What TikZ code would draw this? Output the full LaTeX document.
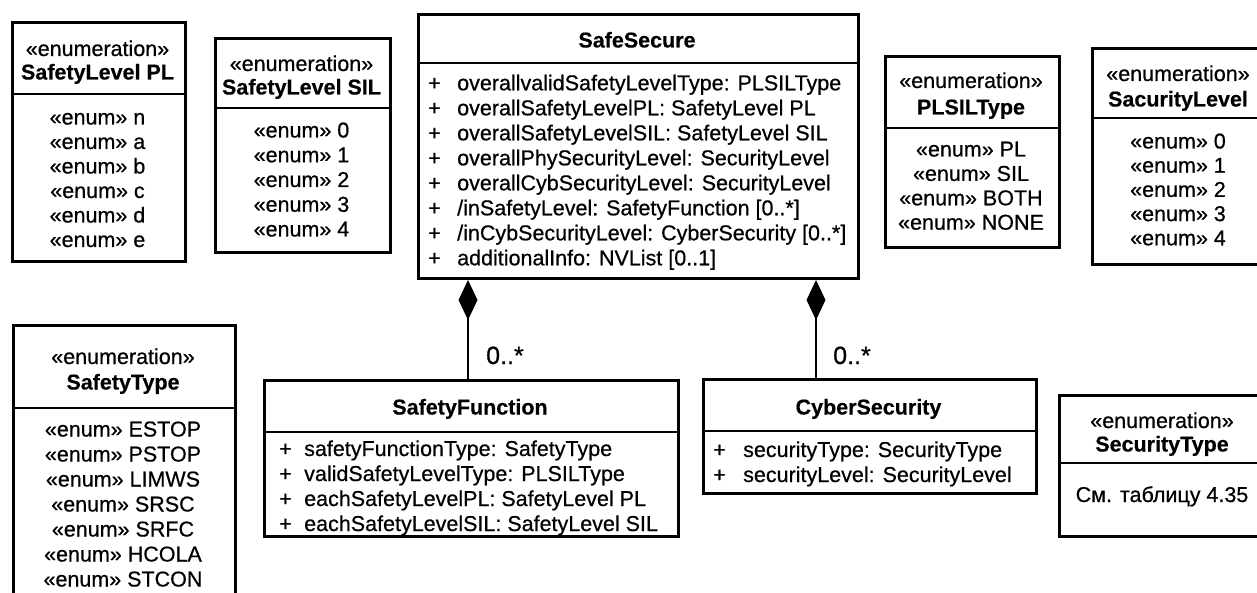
\documentclass[tikz,border=0pt]{standalone}
\usepackage{fontspec}
\setmainfont{Liberation Sans}[UprightFeatures={FakeBold=0.6},BoldFeatures={FakeBold=0.4}]
\usetikzlibrary{arrows.meta}
\tikzset{
  cls/.style={draw, line width=3pt, inner sep=0pt, anchor=north west},
  sepline/.style={line width=2.6pt},
  txt/.style={inner sep=0pt, anchor=base, font=\fontsize{21.5}{25}\selectfont},
  btxt/.style={txt, font=\fontsize{21.5}{25}\selectfont\bfseries},
  ltxt/.style={txt, anchor=base west},
  mult/.style={inner sep=0pt, anchor=base west, font=\fontsize{25}{28}\selectfont},
  comp/.style={line width=2pt, -{Diamond[length=40pt,width=19pt]}},
}
\newcommand\umlbox[6]{% name, left, top, right, bottom, divider
  \node[cls, minimum width={#4pt-#2pt}, minimum height={#5pt-#3pt}] (#1) at (#2,#3) {};
  \draw[sepline] (#1.west |- 0,#6) -- (#1.east |- 0,#6);
}
\newcommand\enumrows[5]{% name, cx, y0, dy, list
  \foreach \rowtext [count=\i] in {#5} {\node[txt] (#1-\i) at (#2,{#3+(\i-1)*#4}) {\rowtext};}
}
\newcommand\attrrows[6]{% name, xplus, xtext, y0, dy, list
  \foreach \rowtext [count=\i] in {#6} {
    \node[ltxt] (#1-p\i) at (#2,{#4+(\i-1)*#5}) {+};
    \node[ltxt] (#1-\i) at (#3,{#4+(\i-1)*#5}) {\rowtext};}
}
\begin{document}
\begin{tikzpicture}[x=1pt,y=-1pt]
\useasboundingbox (0,0) rectangle (1257,593);
\clip (0,0) rectangle (1257,593);

% SafetyLevel PL
\umlbox{pl}{11}{21}{184}{260}{94}
\node[txt] (pl-s) at (97.5,56) {«enumeration»};
\node[btxt] (pl-n) at (97.5,79.5) {SafetyLevel PL};
\enumrows{pl}{97.5}{124.5}{24.5}{«enum» n,«enum» a,«enum» b,«enum» c,«enum» d,«enum» e}

% SafetyLevel SIL
\umlbox{sil}{214}{37}{389}{251}{108}
\node[txt] (sil-s) at (301.5,71) {«enumeration»};
\node[btxt] (sil-n) at (301.5,94.5) {SafetyLevel SIL};
\enumrows{sil}{301.5}{137.5}{24.75}{«enum» 0,«enum» 1,«enum» 2,«enum» 3,«enum» 4}

% SafeSecure
\umlbox{ss}{417}{13}{857}{277}{63}
\node[btxt] (ss-n) at (637,47.5) {SafeSecure};
\attrrows{ss}{428}{457}{90.3}{25}{overallvalidSafetyLevelType: PLSILType,overallSafetyLevelPL: SafetyLevel PL,overallSafetyLevelSIL: SafetyLevel SIL,overallPhySecurityLevel: SecurityLevel,overallCybSecurityLevel: SecurityLevel,/inSafetyLevel: SafetyFunction [0..*],/inCybSecurityLevel: CyberSecurity [0..*],additionalInfo: NVList [0..1]}

% PLSILType
\umlbox{plsil}{884}{55}{1058}{246}{128}
\node[txt] (plsil-s) at (971,88) {«enumeration»};
\node[btxt] (plsil-n) at (971,114.5) {PLSILType};
\enumrows{plsil}{971}{156.5}{24.4}{«enum» PL,«enum» SIL,«enum» BOTH,«enum» NONE}

% SacurityLevel
\umlbox{sacl}{1091}{47}{1265}{263}{118}
\node[txt] (sacl-s) at (1178,81) {«enumeration»};
\node[btxt] (sacl-n) at (1178,106.5) {SacurityLevel};
\enumrows{sacl}{1178}{148.5}{24.2}{«enum» 0,«enum» 1,«enum» 2,«enum» 3,«enum» 4}

% SafetyType
\umlbox{st}{12}{324}{234}{640}{408}
\node[txt] (st-s) at (123,364) {«enumeration»};
\node[btxt] (st-n) at (123,389.5) {SafetyType};
\enumrows{st}{123}{436.5}{25}{«enum» ESTOP,«enum» PSTOP,«enum» LIMWS,«enum» SRSC,«enum» SRFC,«enum» HCOLA,«enum» STCON}

% SafetyFunction
\umlbox{sf}{263}{379}{677}{535}{432}
\node[btxt] (sf-n) at (470,414.5) {SafetyFunction};
\attrrows{sf}{279}{304}{456}{25}{safetyFunctionType: SafetyType,validSafetyLevelType: PLSILType,eachSafetyLevelPL: SafetyLevel PL,eachSafetyLevelSIL: SafetyLevel SIL}

% CyberSecurity
\umlbox{cs}{702}{378}{1035}{492}{431}
\node[btxt] (cs-n) at (868.5,414.5) {CyberSecurity};
\attrrows{cs}{713}{743}{457}{25}{securityType: SecurityType,securityLevel: SecurityLevel}

% SecurityType
\umlbox{sect}{1058}{394}{1266}{535}{463}
\node[txt] (sect-s) at (1162,428) {«enumeration»};
\node[btxt] (sect-n) at (1162,451.5) {SecurityType};
\node[txt] (sect-1) at (1162,502) {См. таблицу 4.35};

% compositions
\coordinate (d1) at (468,0);
\coordinate (d2) at (816,0);
\draw[comp] (sf.north -| d1) -- (ss.south -| d1);
\draw[comp] (cs.north -| d2) -- (ss.south -| d2);
\node[mult] (m1) at (486,364) {0..*};
\node[mult] (m2) at (833,364) {0..*};
\end{tikzpicture}
\end{document}
